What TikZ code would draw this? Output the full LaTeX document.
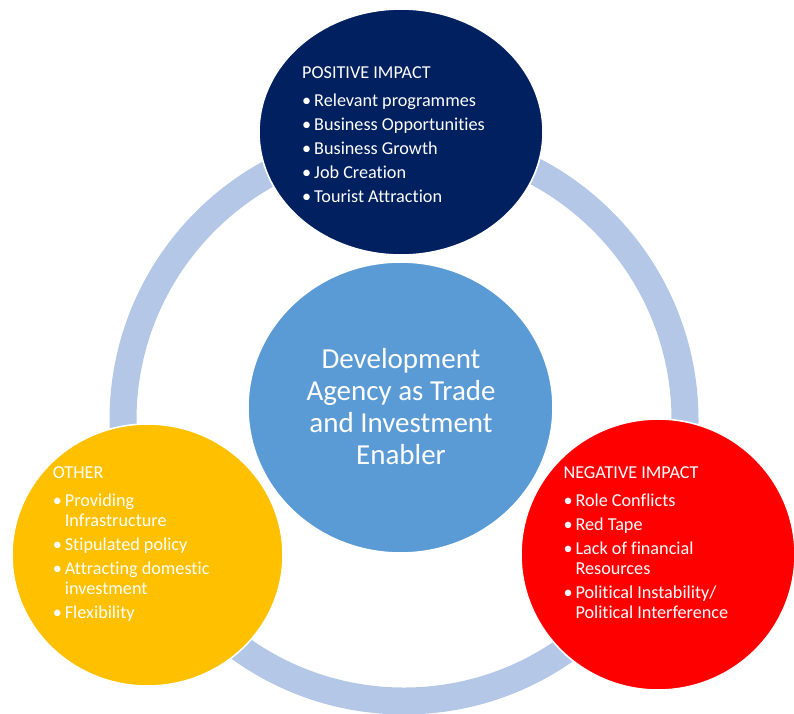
\documentclass[tikz,border=0pt]{standalone}
\usepackage{fontspec}
\setmainfont{Carlito}[Ligatures=NoCommon]
\usetikzlibrary{shapes.geometric}

\definecolor{navy}{HTML}{002060}
\definecolor{hubblue}{HTML}{5B9BD5}
\definecolor{amber}{HTML}{FFC000}
\definecolor{alarm}{HTML}{FF0000}
\definecolor{ringblue}{HTML}{B4C7E7}

% one bullet cell of a list: fixed hanging indent
\newcommand{\bul}{\makebox[12pt][l]{\textbullet}}

\tikzset{
  blob/.style={ellipse, draw=white, line width=1.6pt, inner sep=0pt},
  listtext/.style={text=white, inner sep=0pt, anchor=base west,
    font=\fontsize{18.2}{19.8}\selectfont},
  hubtext/.style={text=white, inner sep=0pt, anchor=base,
    font=\fontsize{29}{32.3}\selectfont},
}

\begin{document}
\begin{tikzpicture}[x=1pt,y=-1pt]
\useasboundingbox (0,0) rectangle (794,713);

% the ring that links the three outer circles
\coordinate (ringc) at (404,420);
\draw[ringblue, line width=27pt] (ringc) circle[radius=281];

% circles
\node[blob, fill=navy, minimum width=284pt, minimum height=246pt] (pos) at (401,132) {};
\node[blob, fill=hubblue, minimum width=305pt, minimum height=291pt] (hub) at (400.5,407.5) {};
\node[blob, fill=amber, minimum width=271pt, minimum height=262pt] (other) at (147.5,555) {};
\node[blob, fill=alarm, minimum width=274pt, minimum height=271pt] (neg) at (658,554.5) {};

% centre caption
\node[hubtext] (hubtxt) at (401,368)
  {\begin{tabular}[t]{@{}c@{}}Development\\Agency as Trade\\and Investment\\Enabler\end{tabular}};

% positive impact
\node[listtext] (postxt) at (302,78)
  {\begin{tabular}[t]{@{}l@{}l@{}}
   \multicolumn{2}{@{}l@{}}{POSITIVE IMPACT}\\[8.8pt]
   \bul & Relevant programmes\\[4.2pt]
   \bul & Business Opportunities\\[4.2pt]
   \bul & Business Growth\\[4.2pt]
   \bul & Job Creation\\[4.2pt]
   \bul & Tourist Attraction
   \end{tabular}};

% other
\node[listtext] (othertxt) at (52.7,478.3)
  {\begin{tabular}[t]{@{}l@{}l@{}}
   \multicolumn{2}{@{}l@{}}{OTHER}\\[8.6pt]
   \bul & Providing\\
        & Infrastructure\\[4.2pt]
   \bul & Stipulated policy\\[4.2pt]
   \bul & Attracting domestic\\
        & investment\\[4.2pt]
   \bul & Flexibility
   \end{tabular}};

% negative impact
\node[listtext] (negtxt) at (563.3,478.3)
  {\begin{tabular}[t]{@{}l@{}l@{}}
   \multicolumn{2}{@{}l@{}}{NEGATIVE IMPACT}\\[8.6pt]
   \bul & Role Conflicts\\[4.2pt]
   \bul & Red Tape\\[4.2pt]
   \bul & Lack of financial\\
        & Resources\\[4.2pt]
   \bul & Political Instability/\\
        & Political Interference
   \end{tabular}};
\end{tikzpicture}
\end{document}
